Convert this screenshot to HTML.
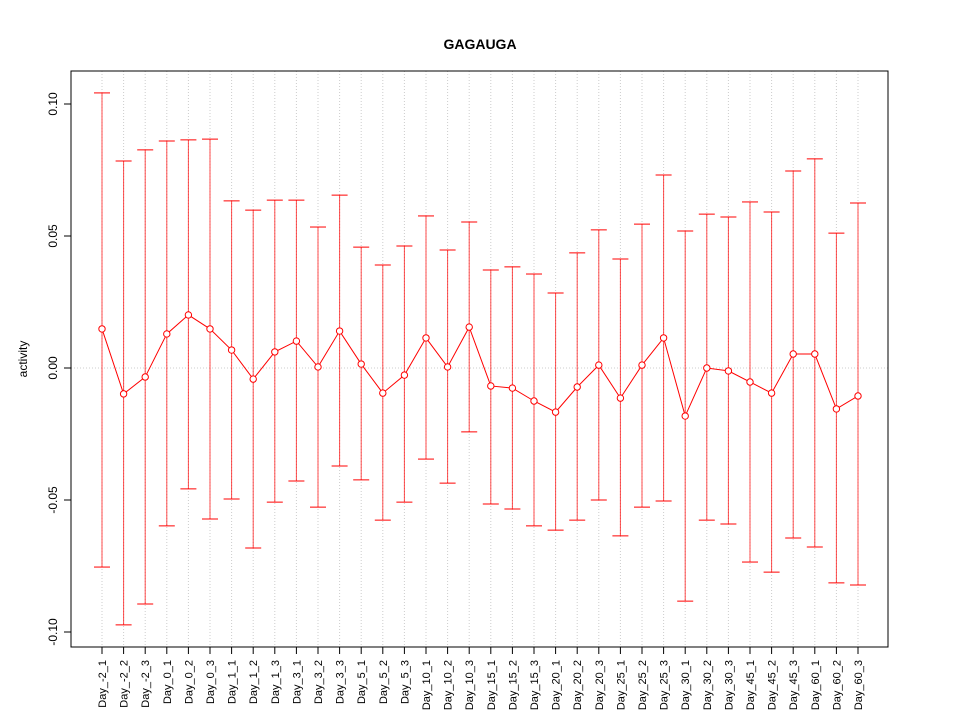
<!DOCTYPE html>
<html><head><meta charset="utf-8"><style>
html,body{margin:0;padding:0;background:#fff;}
svg{display:block;font-family:"Liberation Sans",sans-serif;}
</style></head><body>
<svg id="chart" width="960" height="720" viewBox="0 0 960 720">
<rect x="0" y="0" width="960" height="720" fill="#fff"/>
<text x="480" y="49" text-anchor="middle" font-size="14" font-weight="bold">GAGAUGA</text>
<text transform="translate(27,359) rotate(-90)" text-anchor="middle" font-size="12">activity</text>
<g id="grid"></g>
<g id="bars"></g>
<g id="series"></g>
<g id="axes"></g>
<rect x="71" y="71" width="817" height="576" fill="none" stroke="#000" stroke-width="1"/>
</svg>
<script>
const categories = ["Day_-2_1","Day_-2_2","Day_-2_3","Day_0_1","Day_0_2","Day_0_3","Day_1_1","Day_1_2","Day_1_3","Day_3_1","Day_3_2","Day_3_3","Day_5_1","Day_5_2","Day_5_3","Day_10_1","Day_10_2","Day_10_3","Day_15_1","Day_15_2","Day_15_3","Day_20_1","Day_20_2","Day_20_3","Day_25_1","Day_25_2","Day_25_3","Day_30_1","Day_30_2","Day_30_3","Day_45_1","Day_45_2","Day_45_3","Day_60_1","Day_60_2","Day_60_3"];
const means = [0.0148,-0.0098,-0.0034,0.0129,0.0201,0.0148,0.0068,-0.0042,0.0061,0.0102,0.0004,0.0140,0.0015,-0.0095,-0.0027,0.0114,0.0004,0.0155,-0.0068,-0.0076,-0.0125,-0.0167,-0.0072,0.0011,-0.0114,0.0011,0.0114,-0.0182,0.0000,-0.0011,-0.0053,-0.0095,0.0053,0.0053,-0.0155,-0.0106];
const upper = [0.1042,0.0784,0.0826,0.0860,0.0864,0.0867,0.0633,0.0598,0.0636,0.0636,0.0534,0.0655,0.0458,0.0390,0.0462,0.0576,0.0447,0.0553,0.0371,0.0383,0.0356,0.0284,0.0436,0.0523,0.0413,0.0545,0.0731,0.0519,0.0583,0.0572,0.0629,0.0591,0.0746,0.0792,0.0511,0.0625];
const lower = [-0.0754,-0.0973,-0.0894,-0.0598,-0.0458,-0.0572,-0.0496,-0.0682,-0.0508,-0.0428,-0.0527,-0.0371,-0.0424,-0.0576,-0.0508,-0.0345,-0.0436,-0.0242,-0.0515,-0.0534,-0.0598,-0.0614,-0.0576,-0.0500,-0.0636,-0.0527,-0.0504,-0.0883,-0.0576,-0.0591,-0.0735,-0.0773,-0.0644,-0.0678,-0.0814,-0.0822];
const yTicks = [-0.10,-0.05,0.00,0.05,0.10];
const yTickLabels = ["-0.10","-0.05","0.00","0.05","0.10"];

const NS="http://www.w3.org/2000/svg";
function xs(i){ return 102 + i*(756/(categories.length-1)); }
function ys(v){ return 368 - v*2640; }
function mk(tag, attrs, parent, txt){
  const e=document.createElementNS(NS,tag);
  for(const k in attrs) e.setAttribute(k, attrs[k]);
  if(txt!==undefined) e.textContent=txt;
  parent.appendChild(e); return e;
}
const grid=document.getElementById('grid'), bars=document.getElementById('bars'),
      series=document.getElementById('series'), axes=document.getElementById('axes');

let hz=mk('line',{x1:71,x2:888,y1:ys(0),y2:ys(0),stroke:'#ccc','stroke-dasharray':'1,2'},grid);



categories.forEach((c,i)=>{
  const x=xs(i);
  let g=mk('line',{x1:x,x2:x,y1:71,y2:647,stroke:'#ccc','stroke-dasharray':'1,2'},grid);
  
  
  let v=mk('line',{x1:x,x2:x,y1:ys(upper[i]),y2:ys(lower[i]),stroke:'#f00','stroke-width':1,'stroke-opacity':0.7},bars);
  
  
  let cu=mk('line',{x1:x-8,x2:x+8,y1:ys(upper[i]),y2:ys(upper[i]),stroke:'#f00'},bars);
  
  
  let cl=mk('line',{x1:x-8,x2:x+8,y1:ys(lower[i]),y2:ys(lower[i]),stroke:'#f00'},bars);
  
  
  let t=mk('line',{x1:x,x2:x,y1:647,y2:654,stroke:'#000'},axes);
  
  
  let lb=mk('text',{transform:`translate(${x+4},660) rotate(-90)`,'text-anchor':'end','font-size':11},axes,c);
  
  
});

const pts=means.map((m,i)=>xs(i)+','+ys(m)).join(' ');
let pl=mk('polyline',{points:pts,fill:'none',stroke:'#f00','stroke-width':1},series);


means.forEach((m,i)=>{
  let p=mk('circle',{cx:xs(i),cy:ys(m),r:3.2,fill:'#fff',stroke:'#f00','stroke-width':1},series);
  
  
});

let ax=mk('line',{x1:71,x2:71,y1:ys(yTicks[0]),y2:ys(yTicks[yTicks.length-1]),stroke:'#000'},axes);


yTicks.forEach((v,i)=>{
  const y=ys(v);
  let t=mk('line',{x1:64,x2:71,y1:y,y2:y,stroke:'#000'},axes);
  
  
  let lb=mk('text',{transform:`translate(57,${y}) rotate(-90)`,'text-anchor':'middle','font-size':12},axes,yTickLabels[i]);
  
  
});
</script>
</body></html>
